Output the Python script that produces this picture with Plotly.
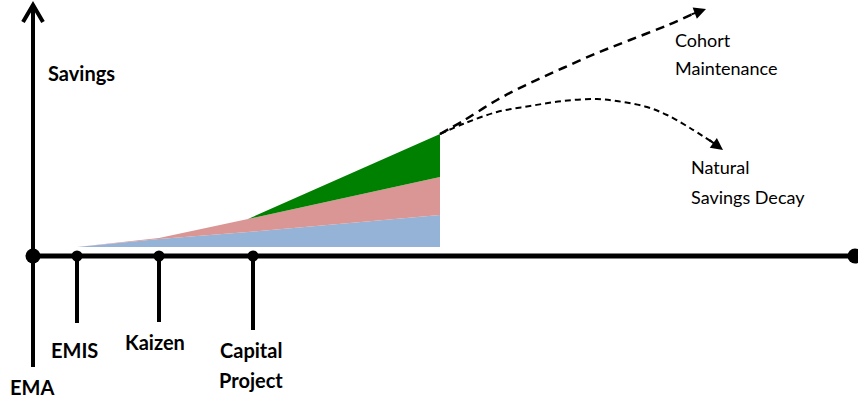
import plotly.graph_objects as go

# ---- data (diagram; x in px, savings as height above base) ----
BASE = 247  # pixel row of the area baseline
phase_x = [77, 159, 248, 440]
blue_vals = [0, 8, 15, 32]
pink_vals = [0, 1, 13, 38]
green_vals = [0, 0, 0, 43]

milestone_x = [33, 77, 159, 253]
tick_end_px = [367, 323, 322, 330]
dot_sizes = [15, 11, 11, 11]

# label lines: (text, x centre, y pixel)
bold_labels = [("EMA", 32, 387), ("EMIS", 74, 350), ("Kaizen", 155, 342),
               ("Capital", 251, 350), ("Project", 251, 380)]
plain_labels = [("Cohort", 673, 40), ("Maintenance", 673, 68),
                ("Natural", 689, 167), ("Savings Decay", 689, 197)]

cohort_x = [440, 463, 497, 530, 563, 597, 630, 668, 697]
cohort_px = [134, 121, 100, 83, 68, 53, 40, 25, 12]
decay_x = [440, 463, 497, 530, 563, 597, 623, 647, 667, 690, 712]
decay_px = [134, 124, 112, 106, 101, 99, 102, 107, 115, 128, 142]


def Y(p):
    return BASE - p


fig = go.Figure()

fig.add_trace(go.Scatter(x=phase_x, y=blue_vals, stackgroup="s", mode="none",
                         fillcolor="#95b3d7", hoverinfo="skip"))
fig.add_trace(go.Scatter(x=phase_x, y=pink_vals, stackgroup="s", mode="none",
                         fillcolor="#d99694", hoverinfo="skip"))
fig.add_trace(go.Scatter(x=phase_x, y=green_vals, stackgroup="s", mode="none",
                         fillcolor="#008000", hoverinfo="skip"))

# dashed projections
fig.add_trace(go.Scatter(x=cohort_x, y=[Y(p) for p in cohort_px], mode="lines",
                         line=dict(color="black", width=2.5, dash="9px,6px", shape="spline"),
                         hoverinfo="skip"))
fig.add_trace(go.Scatter(x=decay_x, y=[Y(p) for p in decay_px], mode="lines",
                         line=dict(color="black", width=2, dash="6px,4px", shape="spline"),
                         hoverinfo="skip"))

shapes = []
# vertical axis
shapes.append(dict(type="line", x0=33, x1=33, y0=Y(367), y1=Y(5), layer="below",
                   line=dict(color="black", width=4)))
shapes.append(dict(type="path", path=f"M 23,{Y(22)} L 33,{Y(5)} L 43,{Y(22)}",
                   line=dict(color="black", width=4)))
# horizontal axis
shapes.append(dict(type="line", x0=33, x1=855, y0=Y(256), y1=Y(256), layer="below",
                   line=dict(color="black", width=5)))
# milestone ticks
for mx, te in zip(milestone_x, tick_end_px):
    shapes.append(dict(type="line", x0=mx, x1=mx, y0=Y(256), y1=Y(te), layer="below",
                       line=dict(color="black", width=4)))

fig.add_trace(go.Scatter(x=milestone_x + [855], y=[Y(256)] * 5, mode="markers",
                         marker=dict(color="black", size=dot_sizes + [15], opacity=1,
                                     line=dict(width=0)),
                         hoverinfo="skip"))

annotations = []
for name, lx, ly in bold_labels:
    annotations.append(dict(x=lx, y=Y(ly), text=f"<b>{name}</b>", showarrow=False,
                            xanchor="center", yanchor="middle",
                            font=dict(family="Lato", size=20, color="black")))
annotations.append(dict(x=46, y=Y(73), text="<b>Savings</b>", showarrow=False,
                        xanchor="left", yanchor="middle",
                        font=dict(family="Lato", size=20, color="black")))
for name, lx, ly in plain_labels:
    annotations.append(dict(x=lx, y=Y(ly), text=name, showarrow=False,
                            xanchor="left", yanchor="middle",
                            font=dict(family="Lato", size=18, color="black")))
# arrowheads
annotations.append(dict(x=706, y=Y(9), ax=690, ay=Y(15), axref="x", ayref="y",
                        xref="x", yref="y", text="", showarrow=True, arrowhead=2,
                        arrowsize=1.2, arrowwidth=2, arrowcolor="black", standoff=0))
annotations.append(dict(x=723, y=Y(150), ax=708, ay=Y(139), axref="x", ayref="y",
                        xref="x", yref="y", text="", showarrow=True, arrowhead=2,
                        arrowsize=1.2, arrowwidth=2, arrowcolor="black", standoff=0))

fig.update_layout(
    width=858, height=400, margin=dict(l=0, r=0, t=0, b=0),
    paper_bgcolor="white", plot_bgcolor="white", showlegend=False,
    shapes=shapes, annotations=annotations,
    xaxis=dict(range=[0, 858], visible=False, fixedrange=True),
    yaxis=dict(range=[Y(400), Y(0)], visible=False, fixedrange=True),
)

fig.write_html("out.html")
